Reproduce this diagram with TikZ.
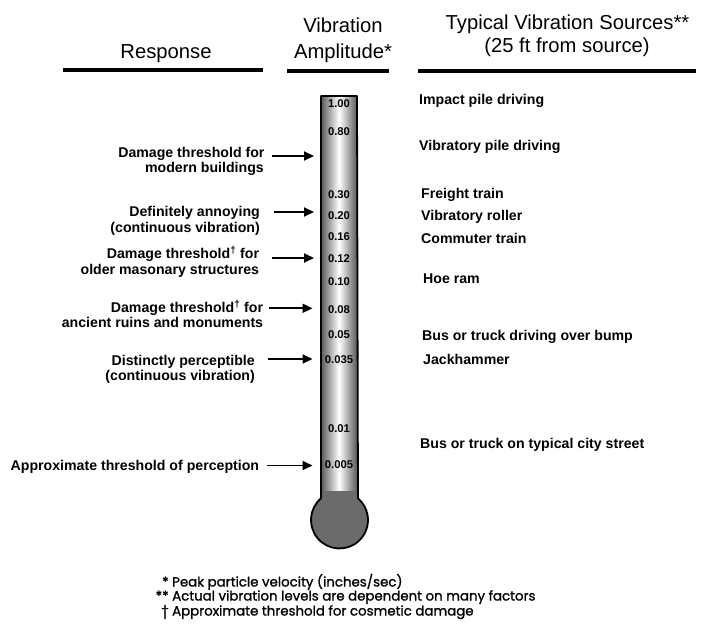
\documentclass[tikz,border=0pt]{standalone}
\usepackage{fontspec}
\setmainfont{Liberation Sans}
\newfontfamily\footfont{Poppins}[FakeBold=1.2]
\usetikzlibrary{arrows.meta}
\begin{document}
\begin{tikzpicture}[x=1bp,y=-1bp,
 lbl/.style={font=\fontsize{14.2}{16}\selectfont\bfseries, inner sep=0pt},
 lft/.style={lbl, anchor=base east},
 rgt/.style={lbl, anchor=base west},
 val/.style={font=\fontsize{11.3}{12}\selectfont\bfseries, inner sep=0pt, anchor=base},
 hdr/.style={font=\fontsize{20.3}{22}\selectfont, inner sep=0pt, anchor=base},
 arr/.style={line width=1.8bp, -{Triangle[length=10bp,width=9bp]}},
 hrule/.style={line width=4bp},
 foot/.style={font=\footfont\fontsize{13.4}{15}\selectfont, inner sep=0pt, anchor=base west},
]
\useasboundingbox (0,0) rectangle (709,629);
% headers
\node[hdr] (hresp) at (166,59) {Response};
\node[hdr] (hvib) at (343,33) {Vibration};
\node[hdr] (hamp) at (343,59) {Amplitude*};
\node[hdr] (htyp) at (567.5,30) {Typical Vibration Sources**};
\node[hdr] (hft) at (567,53) {(25 ft from source)};
\draw[hrule] (63,70.5) -- (263,70.5);
\draw[hrule] (287,71.5) -- (389,71.5);
\draw[hrule] (418,71.5) -- (696,71.5);
% thermometer
\shade[left color=black!65, right color=black!65, middle color=white] (321,96) rectangle (357,495);
\fill[black!58] (321,491) rectangle (357,500);
\fill[black!58] (339.5,520) circle[radius=28.5];
\draw[line width=1.8bp, line join=round] (321,96) -- (321,498.3) arc[start angle=229.55, end angle=-49.55, radius=28.5] -- (357,96) -- cycle;
% values
\node[val] (v100) at (339,108) {1.00};
\node[val] (v080) at (339,135.7) {0.80};
\node[val] (v030) at (339,199) {0.30};
\node[val] (v020) at (339,219) {0.20};
\node[val] (v016) at (339,240.7) {0.16};
\node[val] (v012) at (339,262) {0.12};
\node[val] (v010) at (339,285) {0.10};
\node[val] (v008) at (339,313) {0.08};
\node[val] (v005) at (339,338) {0.05};
\node[val] (v0035) at (339,363) {0.035};
\node[val] (v001) at (339,432) {0.01};
\node[val] (v0005) at (339,468) {0.005};
% left labels
\node[lft] (l1a) at (264.7,157.5) {Damage threshold for};
\node[lft] (l1b) at (264,173) {modern buildings};
\node[lft] (l2a) at (260,216) {Definitely annoying};
\node[lft] (l2b) at (260,232) {(continuous vibration)};
\node[lft] (l3a) at (259.3,258.3) {Damage threshold\textsuperscript{†} for};
\node[lft] (l3b) at (259.3,274.3) {older masonary structures};
\node[lft] (l4a) at (263.3,312.3) {Damage threshold\textsuperscript{†} for};
\node[lft] (l4b) at (263.3,327.7) {ancient ruins and monuments};
\node[lft] (l5a) at (255,365.7) {Distinctly perceptible};
\node[lft] (l5b) at (255,380.7) {(continuous vibration)};
\node[lft] (l6a) at (259.3,470) {Approximate threshold of perception};
% arrows
\coordinate (a1s) at (272,156);   \coordinate (a1e) at (314,156);
\coordinate (a2s) at (274,212);   \coordinate (a2e) at (314,212);
\coordinate (a3s) at (271.7,258); \coordinate (a3e) at (314,258);
\coordinate (a4s) at (269.3,308.3); \coordinate (a4e) at (312.5,308.3);
\coordinate (a5s) at (268.3,359); \coordinate (a5e) at (312.5,359);
\coordinate (a6s) at (266.7,465.5); \coordinate (a6e) at (312.5,465.5);
\draw[arr] (a1s) -- (a1e);
\draw[arr] (a2s) -- (a2e);
\draw[arr] (a3s) -- (a3e);
\draw[arr] (a4s) -- (a4e);
\draw[arr] (a5s) -- (a5e);
\draw[arr] (a6s) -- (a6e);
% right labels
\node[rgt] (s1) at (419,105) {Impact pile driving};
\node[rgt] (s2) at (419,151) {Vibratory pile driving};
\node[rgt] (s3) at (421,199) {Freight train};
\node[rgt] (s4) at (421,220.7) {Vibratory roller};
\node[rgt] (s5) at (421,243) {Commuter train};
\node[rgt] (s6) at (423,283.3) {Hoe ram};
\node[rgt] (s7) at (422,340) {Bus or truck driving over bump};
\node[rgt] (s8) at (423,364.3) {Jackhammer};
\node[rgt] (s9) at (420,448.3) {Bus or truck on typical city street};
% footnotes
\node[foot] (f1) at (172,586.5) {\llap{* }Peak particle velocity (inches/sec)};
\node[foot] (f2) at (172,600.5) {\llap{** }Actual vibration levels are dependent on many factors};
\node[foot] (f3) at (172,615.5) {\llap{† }Approximate threshold for cosmetic damage};
\end{tikzpicture}
\end{document}
